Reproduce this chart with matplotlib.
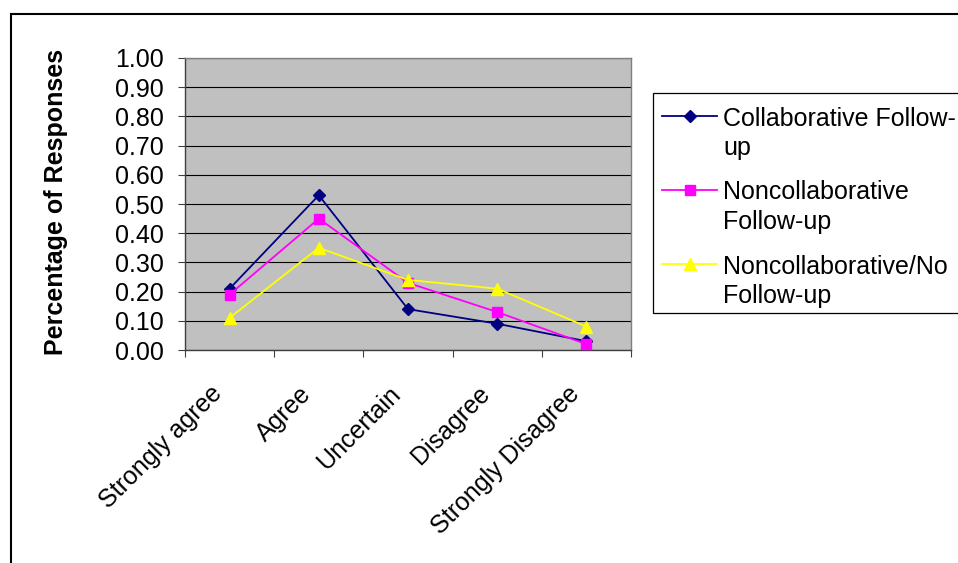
import matplotlib
matplotlib.use("Agg")
import matplotlib.pyplot as plt
from matplotlib.patches import Rectangle
from matplotlib.lines import Line2D
from matplotlib.transforms import ScaledTranslation

plt.rcParams['font.family'] = ['Liberation Sans', 'DejaVu Sans']

categories = ["Strongly agree", "Agree", "Uncertain", "Disagree", "Strongly Disagree"]
collaborative = [0.21, 0.53, 0.14, 0.09, 0.03]
noncollaborative = [0.19, 0.45, 0.23, 0.13, 0.02]
noncollab_no_followup = [0.11, 0.35, 0.24, 0.21, 0.08]
series_labels = ["Collaborative Follow-\nup", "Noncollaborative\nFollow-up", "Noncollaborative/No\nFollow-up"]
y_ticks = [0.0, 0.1, 0.2, 0.3, 0.4, 0.5, 0.6, 0.7, 0.8, 0.9, 1.0]

FS = 18
W, H = 958, 563
fig = plt.figure(figsize=(W / 100, H / 100), dpi=100)
fig.patch.set_facecolor("white")

def fx(px):
    return px / W

def fy(py):
    return 1 - py / H

# outer chart frame
fig.patches.append(Rectangle((fx(11), fy(1000)), fx(1200), fy(14) - fy(1000),
                             transform=fig.transFigure, fill=False,
                             edgecolor="black", linewidth=1.5))

ax = fig.add_axes([fx(185), fy(350), fx(631) - fx(185), fy(58) - fy(350)])
ax.set_facecolor("#C0C0C0")

xs = [i + 0.5 for i in range(len(categories))]
styles = [
    (collaborative, "#000080", "D", 6.5),
    (noncollaborative, "#FF00FF", "s", 7),
    (noncollab_no_followup, "#FFFF00", "^", 9),
]
for vals, color, marker, ms in styles:
    ax.plot(xs, vals, color=color, linewidth=1.3, marker=marker, markersize=ms,
            markerfacecolor=color, markeredgecolor=color, clip_on=False, zorder=3)

ax.set_xlim(0, len(categories))
ax.set_ylim(0, 1.0)
ax.set_yticks(y_ticks)
ax.set_yticklabels([f"{v:.2f}" for v in y_ticks])
ax.yaxis.grid(True, color="black", linewidth=0.8)
ax.set_axisbelow(True)

ax.set_xticks(range(len(categories) + 1))
ax.set_xticklabels([])
ax.tick_params(axis="x", direction="out", length=5, width=0.8, color="#404040")
ax.tick_params(axis="y", direction="out", length=5, width=0.8, color="#404040",
               labelsize=FS, pad=10)

for side in ["top", "right"]:
    ax.spines[side].set_color("#808080")
    ax.spines[side].set_linewidth(1.0)
for side in ["left", "bottom"]:
    ax.spines[side].set_color("#404040")
    ax.spines[side].set_linewidth(1.0)

# rotated category labels
offset = ScaledTranslation(-11 / 100, -40 / 100, fig.dpi_scale_trans)
for x, lab in zip(xs, categories):
    ax.text(x, 0, lab, transform=ax.get_xaxis_transform() + offset,
            rotation=45, rotation_mode="anchor", ha="right", va="center",
            fontsize=FS)

fig.text(fx(56), fy(202), "Percentage of Responses", rotation=90,
         ha="center", va="center", fontsize=FS, fontweight="bold")

# legend box
fig.patches.append(Rectangle((fx(653), fy(313)), fx(1200) - fx(653), fy(93) - fy(313),
                             transform=fig.transFigure, fill=True, facecolor="white",
                             edgecolor="black", linewidth=0.9))
entry_y = [116, 190, 264]
line_gap = 29
for (vals, color, marker, ms), label, ey in zip(styles, series_labels, entry_y):
    fig.lines.append(Line2D([fx(662), fx(717)], [fy(ey), fy(ey)],
                            transform=fig.transFigure, color=color, linewidth=1.3))
    fig.lines.append(Line2D([fx(689.5)], [fy(ey)], transform=fig.transFigure,
                            marker=marker, markersize=ms, color=color,
                            markerfacecolor=color, markeredgecolor=color))
    for k, part in enumerate(label.split("\n")):
        fig.text(fx(723), fy(ey + k * line_gap), part, ha="left", va="center_baseline",
                 fontsize=FS)

fig.savefig("out.png", dpi=100)
